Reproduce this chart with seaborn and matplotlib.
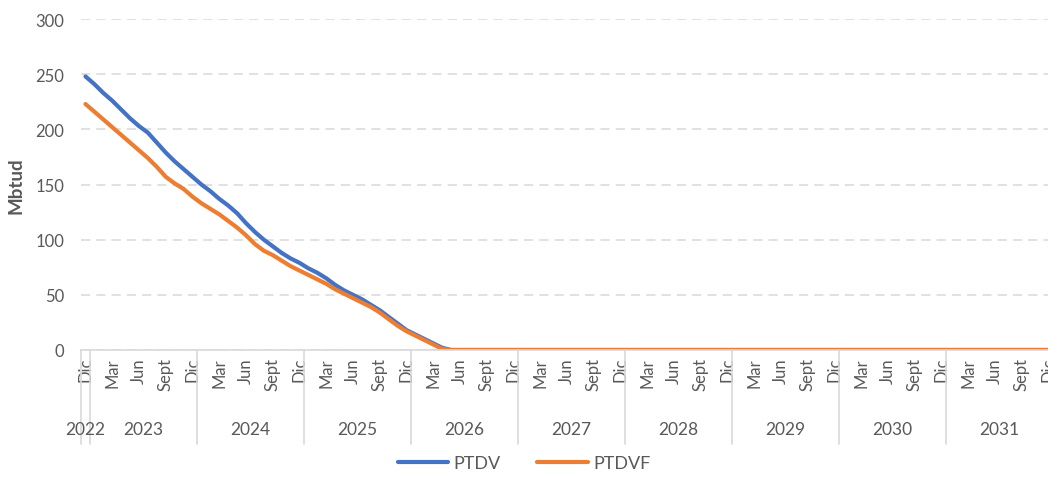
import numpy as np
import pandas as pd
import matplotlib
matplotlib.use("Agg")
import matplotlib.pyplot as plt
import seaborn as sns

# monthly values, Dic 2022 .. Dic 2031 (Mbtud)
ptdv = [248, 241, 233, 226, 218, 210, 203, 197, 188, 179, 171, 164, 157,
        150, 144, 137, 131, 124, 115, 107, 100, 94, 88, 83, 79,
        74, 70, 65, 59, 54, 50, 46, 41, 36, 30, 24, 18,
        14, 10, 6, 2, 0, 0, 0, 0, 0, 0, 0, 0,
        0, 0, 0, 0, 0, 0, 0, 0, 0, 0, 0, 0,
        0, 0, 0, 0, 0, 0, 0, 0, 0, 0, 0, 0,
        0, 0, 0, 0, 0, 0, 0, 0, 0, 0, 0, 0,
        0, 0, 0, 0, 0, 0, 0, 0, 0, 0, 0, 0,
        0, 0, 0, 0, 0, 0, 0, 0, 0, 0, 0, 0]
ptdvf = [223, 216, 209, 202, 195, 188, 181, 174, 166, 157, 151, 146, 139,
         133, 128, 123, 117, 111, 104, 96, 90, 86, 81, 76, 72,
         68, 64, 60, 55, 51, 47, 43, 39, 34, 28, 22, 17,
         13, 9, 5, 1, 0, 0, 0, 0, 0, 0, 0, 0,
         0, 0, 0, 0, 0, 0, 0, 0, 0, 0, 0, 0,
         0, 0, 0, 0, 0, 0, 0, 0, 0, 0, 0, 0,
         0, 0, 0, 0, 0, 0, 0, 0, 0, 0, 0, 0,
         0, 0, 0, 0, 0, 0, 0, 0, 0, 0, 0, 0,
         0, 0, 0, 0, 0, 0, 0, 0, 0, 0, 0, 0]

month_labels = ["Dic", "Mar", "Jun", "Sept"]
years = ["2022", "2023", "2024", "2025", "2026", "2027", "2028", "2029", "2030", "2031"]

sns.set_theme(style="white")
plt.rcParams["font.family"] = ["Lato", "DejaVu Sans"]
grey = "#595959"

n = len(ptdv)
idx = np.arange(n)
df = pd.DataFrame({
    "idx": np.concatenate([idx, idx]),
    "value": ptdv + ptdvf,
    "serie": ["PTDV"] * n + ["PTDVF"] * n,
})

fig = plt.figure(figsize=(10.48, 4.81), dpi=100)
ax = fig.add_axes([0.0773, 0.2703, 0.9275, 0.688])

sns.lineplot(data=df, x="idx", y="value", hue="serie",
             palette={"PTDV": "#4472C4", "PTDVF": "#ED7D31"},
             linewidth=3.0, ax=ax)

ax.set_xlim(-0.5, n - 0.5)
ax.set_ylim(0, 300)
ax.set_yticks(range(0, 301, 50))
ax.yaxis.grid(True, color="#d9d9d9", linestyle=(0, (6, 4)), linewidth=1.1)
ax.set_axisbelow(True)
for s in ["left", "right", "top"]:
    ax.spines[s].set_visible(False)
ax.spines["bottom"].set_color("#d9d9d9")
ax.spines["bottom"].set_linewidth(1.2)

# month ticks every quarter
ticks = idx[::3]
ax.set_xticks(ticks)
ax.set_xticklabels([month_labels[k % 4] for k in range(len(ticks))],
                   rotation=90, fontsize=12, color=grey)
ax.tick_params(axis="x", length=0, pad=5)
ax.tick_params(axis="y", length=0, pad=12, labelsize=12, labelcolor=grey)

ax.set_xlabel("")
ax.set_ylabel("Mbtud", fontsize=13.5, color=grey, fontweight="bold")
ax.yaxis.set_label_coords(-0.058, 0.5)

# year group separators and labels
trans = ax.get_xaxis_transform()
seps = [-0.5] + [0.5 + 12 * k for k in range(len(years))]
for sx in seps:
    ax.plot([sx, sx], [0, -0.284], transform=trans, color="#d9d9d9",
            linewidth=1.2, clip_on=False)
for k, yr in enumerate(years):
    cx = 0 if k == 0 else 6.5 + 12 * (k - 1)
    ax.text(cx, -0.24, yr, transform=trans, ha="center", va="center",
            fontsize=12.5, color=grey)

handles, labels = ax.get_legend_handles_labels()
ax.get_legend().remove()
fig.legend(handles, labels, loc="center", bbox_to_anchor=(0.5, 0.035), ncol=2,
           frameon=False, fontsize=13, labelcolor=grey, handlelength=2.8,
           columnspacing=2.0, handletextpad=0.3)

fig.savefig("out.png", dpi=100)
